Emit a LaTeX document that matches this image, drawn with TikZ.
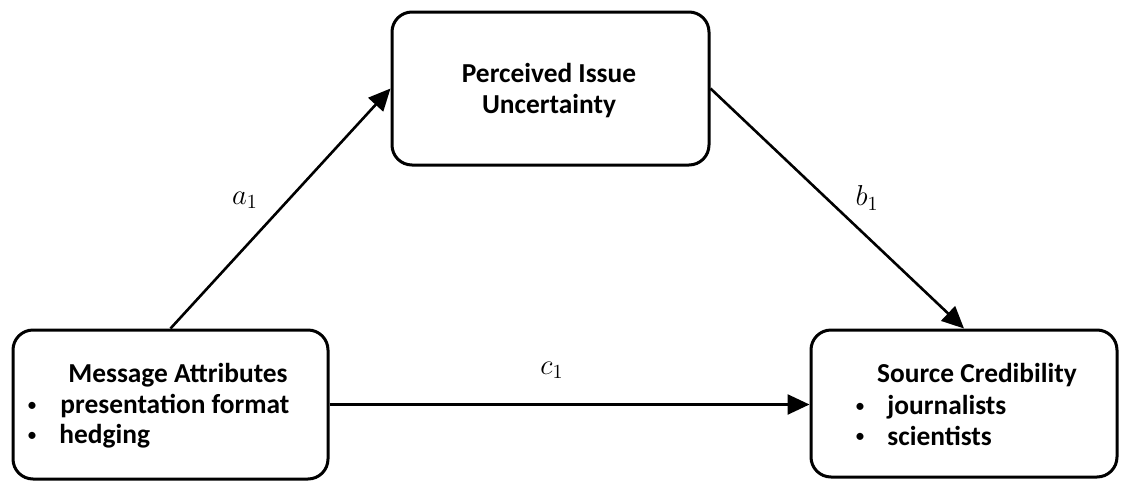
\documentclass[tikz,border=0pt]{standalone}
\usepackage{fontspec}
\setmainfont{Carlito}
\usepackage{xcolor}
\usetikzlibrary{arrows.meta, positioning, calc}

\tikzset{
    box/.style={draw, rounded corners=10pt, line width=1.5pt, inner sep=0pt},
    arr/.style={-{Triangle[length=11pt, width=10pt]}, line width=1.3pt},
    txt/.style={font=\bfseries\fontsize{13.7}{16}\selectfont, inner sep=0pt, anchor=base},
    itm/.style={txt, anchor=base west},
    dot/.style={font=\fontsize{10}{10}\selectfont, inner sep=0pt},
    lbl/.style={font=\fontsize{14.5}{16}\selectfont, inner sep=0pt}
}

\begin{document}
\begin{tikzpicture}[x=0.5pt, y=-0.5pt]
    \useasboundingbox (0,0) rectangle (1121,483);

    % the three boxes
    \node[box, minimum width=157.5pt, minimum height=74.5pt] (msg) at (170.5,404.5) {};
    \node[box, minimum width=158.5pt, minimum height=76.5pt] (unc) at (550.5,88.5) {};
    \node[box, minimum width=153pt, minimum height=73.5pt] (src) at (964,403.5) {};

    % box texts
    \node[txt] (msgtitle) at (178,382) {Message Attributes};
    \node[dot] (msgb1) at (32,407) {\textbullet};
    \node[itm] (msgi1) at (60,413) {presentation format};
    \node[dot] (msgb2) at (32,437) {\textbullet};
    \node[itm] (msgi2) at (59,443) {hedging};

    \node[txt] (unctop) at (549,82) {Perceived Issue};
    \node[txt] (uncbot) at (549,113) {Uncertainty};

    \node[txt] (srctitle) at (977,382) {Source Credibility};
    \node[dot] (srcb1) at (860,408) {\textbullet};
    \node[itm] (srci1) at (887,414) {journalists};
    \node[dot] (srcb2) at (860,438) {\textbullet};
    \node[itm] (srci2) at (887,445) {scientists};

    % paths
    \draw[arr] (msg.north) -- (unc.west);
    \draw[arr] (unc.east) -- (src.north);
    \draw[arr] (msg.east) -- (msg.east -| src.west);

    \node[lbl] (la) at (245,200) {$a_1$};
    \node[lbl] (lb) at (867,198) {$b_1$};
    \node[lbl] (lc) at (552,370) {$c_1$};
\end{tikzpicture}
\end{document}
